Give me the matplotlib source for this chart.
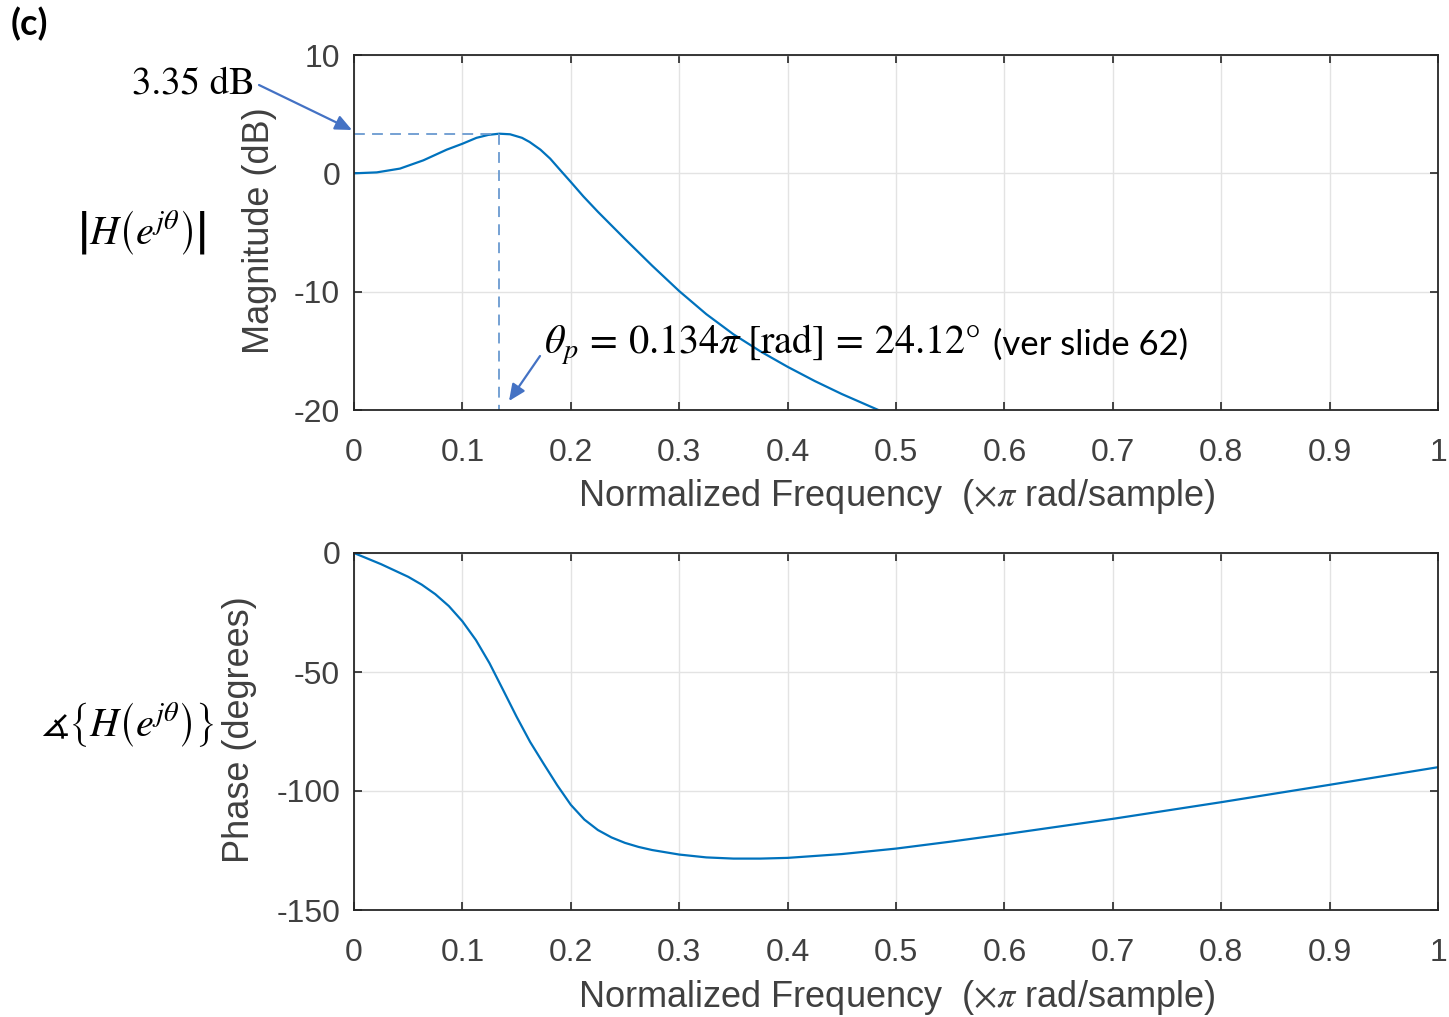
import numpy as np
import matplotlib
matplotlib.use('Agg')
import matplotlib.pyplot as plt

# magnitude response (dB)
mag_freq = [0, 0.021, 0.0424, 0.064, 0.0855, 0.1, 0.113, 0.124, 0.134, 0.144, 0.155, 0.162,
            0.172, 0.181, 0.19, 0.2, 0.2116, 0.225, 0.25, 0.275, 0.3, 0.325, 0.35, 0.375,
            0.4, 0.425, 0.45, 0.4837]
mag_db = [0, 0.08, 0.40, 1.1, 2.0, 2.5, 3.0, 3.25, 3.35, 3.3, 3.0, 2.65,
          2.0, 1.24, 0.3, -0.73, -1.95, -3.25, -5.55, -7.8, -9.95, -11.9, -13.6, -15.05,
          -16.35, -17.55, -18.65, -20.0]

# phase response (degrees)
phase_freq = [0, 0.025, 0.05, 0.0625, 0.075, 0.0875, 0.1, 0.1125, 0.125, 0.1375, 0.15, 0.1625,
              0.175, 0.1875, 0.2, 0.2125, 0.225, 0.2375, 0.25, 0.2625, 0.275, 0.3,
              0.325, 0.35, 0.375, 0.4, 0.45, 0.5, 0.55, 0.6, 0.7, 0.8, 0.9, 1.0]
phase_deg = [0, -4.7, -10.0, -13.3, -17.3, -22.3, -28.7, -36.6, -46.3, -57.5, -68.8, -79.4,
             -88.6, -97.6, -105.8, -112.0, -116.4, -119.5, -121.8, -123.5, -124.8, -126.7,
             -127.9, -128.4, -128.4, -128.1, -126.5, -124.2, -121.3, -118.2, -111.7, -104.7,
             -97.4, -90.0]

peak_freq = 0.134
peak_db = 3.35

xticks = [0, 0.1, 0.2, 0.3, 0.4, 0.5, 0.6, 0.7, 0.8, 0.9, 1]
xtick_labels = ['0', '0.1', '0.2', '0.3', '0.4', '0.5', '0.6', '0.7', '0.8', '0.9', '1']
mag_ticks = [-20, -10, 0, 10]
phase_ticks = [-150, -100, -50, 0]

W, H = 1449, 1017
plt.rcParams['font.family'] = ['Liberation Sans', 'DejaVu Sans']
plt.rcParams['axes.unicode_minus'] = False
plt.rcParams['mathtext.fontset'] = 'stix'

line_col = '#0072BD'
txt_col = '#404040'
arrow_col = '#4472C4'

fig = plt.figure(figsize=(W / 100, H / 100), dpi=100)
ax1 = fig.add_axes([354 / W, 1 - 410 / H, 1084 / W, 355 / H])
ax2 = fig.add_axes([354 / W, 1 - 910 / H, 1084 / W, 357 / H])

def style(ax, yticks, ylabel, ylab_x):
    ax.set_xlim(0, 1)
    ax.set_xticks(xticks)
    ax.set_xticklabels(xtick_labels)
    ax.set_yticks(yticks)
    ax.set_yticklabels([str(t) for t in yticks])
    ax.grid(True, color='#E3E3E3', linewidth=1.0)
    ax.set_axisbelow(True)
    ax.tick_params(direction='in', length=6, width=1.2, top=True, right=True,
                   labelsize=23, labelcolor=txt_col, color='#262626')
    ax.tick_params(axis='x', pad=20)
    ax.tick_params(axis='y', pad=10)
    for s in ax.spines.values():
        s.set_color('#262626')
        s.set_linewidth(1.3)
    ax.set_xlabel(r'Normalized Frequency  ($\times\pi$ rad/sample)', fontsize=26, color=txt_col)
    ax.xaxis.set_label_coords(0.501, -0.245)
    ax.xaxis.label.set_va('center')
    ax.set_ylabel(ylabel, fontsize=26, color=txt_col)
    ax.yaxis.set_label_coords(ylab_x, 0.505)
    ax.yaxis.label.set_va('center')

ax1.plot(mag_freq, mag_db, color=line_col, linewidth=1.6)
ax1.plot([0, peak_freq], [peak_db, peak_db], color='#6A9AD0', linewidth=1.3, linestyle=(0, (6, 4)))
ax1.plot([peak_freq, peak_freq], [peak_db, -20], color='#6A9AD0', linewidth=1.3, linestyle=(0, (6, 4)))
ax1.set_ylim(-20, 10)
style(ax1, mag_ticks, 'Magnitude (dB)', -0.087)

ax2.plot(phase_freq, phase_deg, color=line_col, linewidth=1.6)
ax2.set_ylim(-150, 0)
style(ax2, phase_ticks, 'Phase (degrees)', -0.106)

def fp(x, y):
    return (x / W, 1 - y / H)

fig.text(*fp(11, 24), '(c)', fontsize=26, fontweight='bold', family='Lato', va='center', ha='left')
fig.text(*fp(193, 84), '3.35 dB', fontsize=28, family='STIXGeneral', va='center', ha='center')
fig.text(*fp(142, 233), r'$\left|H\left(e^{j\theta}_{\,}\right)\right|$', fontsize=29,
         va='center', ha='center')
fig.text(*fp(128, 725), r'$\measuredangle\left\{H\left(e^{j\theta}_{\,}\right)\right\}$', fontsize=29,
         va='center', ha='center')
fig.text(*fp(544, 345), r'$\theta_p\,=\,0.134\pi\;[\mathrm{rad}]\,=\,24.12°$', fontsize=29,
         va='center', ha='left')
fig.text(*fp(993, 345), '(ver slide 62)', fontsize=25, family='Lato', va='center', ha='left')

ax1.annotate('', xy=fp(352, 130), xytext=fp(259, 85), xycoords='figure fraction',
             arrowprops=dict(arrowstyle='-|>,head_length=1.0,head_width=0.45', color=arrow_col, lw=1.6,
                             shrinkA=0, shrinkB=0))
ax1.annotate('', xy=fp(509, 401), xytext=fp(540, 356), xycoords='figure fraction',
             arrowprops=dict(arrowstyle='-|>,head_length=1.0,head_width=0.45', color=arrow_col, lw=1.6,
                             shrinkA=0, shrinkB=0))

fig.savefig('out.png', dpi=100)
